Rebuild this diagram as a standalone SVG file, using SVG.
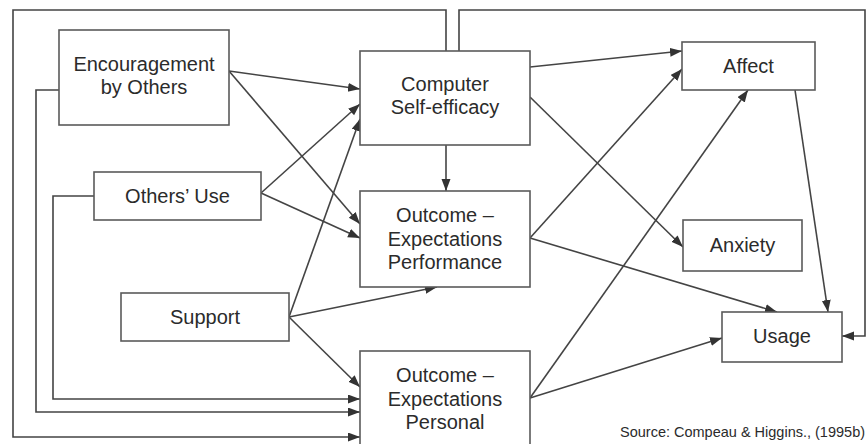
<svg xmlns="http://www.w3.org/2000/svg" width="867" height="444" viewBox="0 0 867 444">
  <style>
    .box { fill: #ffffff; stroke: #5a5a5a; stroke-width: 1.6; }
    .lbl { font-family: "Liberation Sans", Arial, sans-serif; font-size: 20px; fill: #2b2b2b; text-anchor: middle; }
    .src { font-family: "Liberation Sans", Arial, sans-serif; font-size: 14.5px; fill: #2b2b2b; }
    .edge { fill: none; stroke: #444444; stroke-width: 1.6; }
    .arr { marker-end: url(#head); }
  </style>
  <defs>
    <marker id="head" markerUnits="userSpaceOnUse" markerWidth="13" markerHeight="10" refX="12" refY="4.5" orient="auto">
      <path d="M0,0 L12,4.5 L0,9 z" fill="#333333"/>
    </marker>
  </defs>
  <rect width="867" height="444" fill="#ffffff"/>

  <!-- connectors -->
  <g id="connectors">
    <!-- feedback loops around the frame -->
    <polyline class="edge arr" points="446,51 446,10 13,10 13,437 360,437"/>
    <polyline class="edge arr" points="459,51 459,10 865,10 865,336 842,336"/>
    <polyline class="edge arr" points="59,90 36,90 36,412 360,412"/>
    <polyline class="edge arr" points="94,196 53,196 53,399 360,399"/>

    <!-- Encouragement by Others -->
    <line class="edge arr" x1="229" y1="71" x2="360" y2="89"/>
    <line class="edge arr" x1="229" y1="71" x2="360" y2="224"/>
    <!-- Others' Use -->
    <line class="edge arr" x1="261" y1="193" x2="360" y2="104"/>
    <line class="edge arr" x1="261" y1="193" x2="360" y2="238"/>
    <!-- Support -->
    <line class="edge arr" x1="289" y1="317" x2="360" y2="119"/>
    <line class="edge arr" x1="289" y1="317" x2="437" y2="287"/>
    <line class="edge arr" x1="289" y1="317" x2="360" y2="387"/>
    <!-- Computer Self-efficacy -->
    <line class="edge arr" x1="446" y1="145" x2="446" y2="191"/>
    <line class="edge arr" x1="530" y1="67" x2="682" y2="51"/>
    <line class="edge arr" x1="530" y1="97" x2="683" y2="247"/>
    <!-- Outcome Expectations Performance -->
    <line class="edge arr" x1="530" y1="238" x2="682" y2="69"/>
    <line class="edge arr" x1="530" y1="238" x2="777" y2="312"/>
    <!-- Outcome Expectations Personal -->
    <line class="edge arr" x1="530" y1="398" x2="748" y2="90"/>
    <line class="edge arr" x1="530" y1="398" x2="722" y2="338"/>
    <!-- Affect -->
    <line class="edge arr" x1="795" y1="90" x2="828" y2="312"/>
  </g>

  <g id="encouragement">
    <rect class="box" x="59" y="30" width="170" height="95"/>
    <text class="lbl" x="144" y="71">Encouragement</text>
    <text class="lbl" x="144" y="94">by Others</text>
  </g>
  <g id="others-use">
    <rect class="box" x="94" y="172" width="167" height="48"/>
    <text class="lbl" x="177.5" y="203">Others’ Use</text>
  </g>
  <g id="support">
    <rect class="box" x="121" y="293" width="168" height="48"/>
    <text class="lbl" x="205" y="324">Support</text>
  </g>
  <g id="self-efficacy">
    <rect class="box" x="360" y="51" width="170" height="94"/>
    <text class="lbl" x="445" y="91">Computer</text>
    <text class="lbl" x="445" y="114">Self-efficacy</text>
  </g>
  <g id="outcome-performance">
    <rect class="box" x="360" y="191" width="170" height="96"/>
    <text class="lbl" x="445" y="222">Outcome –</text>
    <text class="lbl" x="445" y="246">Expectations</text>
    <text class="lbl" x="445" y="269">Performance</text>
  </g>
  <g id="outcome-personal">
    <rect class="box" x="360" y="351" width="170" height="100"/>
    <text class="lbl" x="445" y="382">Outcome –</text>
    <text class="lbl" x="445" y="406">Expectations</text>
    <text class="lbl" x="445" y="429">Personal</text>
  </g>
  <g id="affect">
    <rect class="box" x="682" y="42" width="133" height="48"/>
    <text class="lbl" x="748.5" y="73">Affect</text>
  </g>
  <g id="anxiety">
    <rect class="box" x="683" y="220" width="119" height="51"/>
    <text class="lbl" x="742.5" y="252">Anxiety</text>
  </g>
  <g id="usage">
    <rect class="box" x="722" y="312" width="120" height="50"/>
    <text class="lbl" x="782" y="343">Usage</text>
  </g>

  <text class="src" x="620" y="437">Source: Compeau &amp; Higgins., (1995b)</text>
</svg>
